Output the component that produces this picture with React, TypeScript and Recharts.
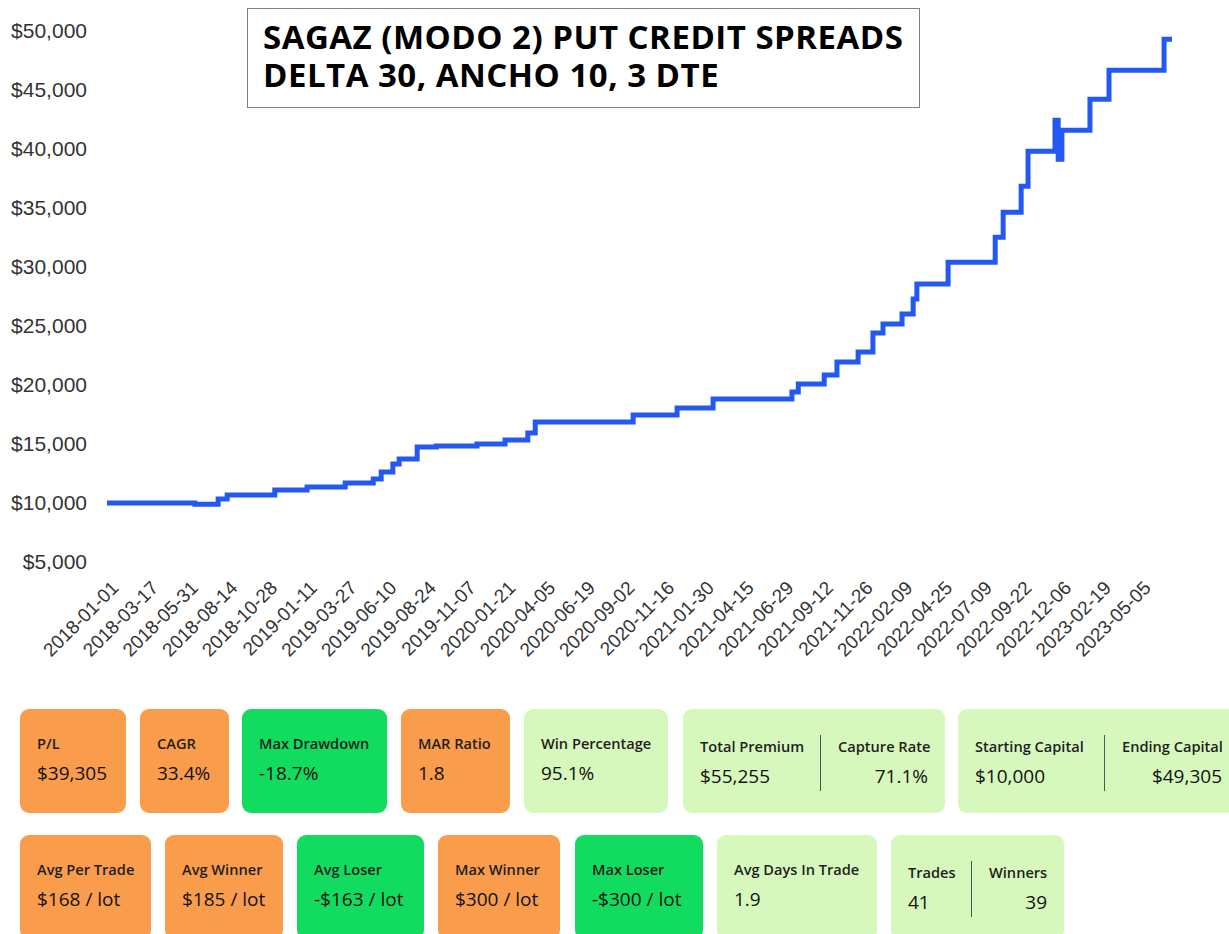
import React from 'react';
import { LineChart, Line, XAxis, YAxis } from 'recharts';

// ---------- DATA ----------
const tradeDates = [
  '2018-01-01', '2018-06-16', '2018-07-30', '2018-08-16', '2018-11-14',
  '2019-01-14', '2019-03-27', '2019-05-19', '2019-06-03', '2019-06-25',
  '2019-07-07', '2019-08-10', '2019-09-15', '2019-12-01', '2020-01-23',
  '2020-03-06', '2020-03-20', '2020-09-21', '2020-12-13', '2021-02-19',
  '2021-07-18', '2021-07-30', '2021-09-17', '2021-10-11', '2021-11-20',
  '2021-12-18', '2022-01-06', '2022-02-11', '2022-03-04', '2022-03-11',
  '2022-05-09', '2022-08-06', '2022-08-21', '2022-09-24', '2022-10-07',
  '2022-11-27', '2022-12-03', '2022-12-10', '2023-02-01', '2023-03-09',
  '2023-06-21', '2023-07-06',
];

const equity = [
  10000, 9900, 10340, 10680, 11100,
  11355, 11700, 12030, 12630, 13300,
  13730, 14740, 14830, 15000, 15340,
  15930, 16860, 17450, 18050, 18810,
  19400, 20080, 20840, 21940, 22790,
  24400, 25160, 26010, 27280, 28550,
  30410, 32530, 34650, 36850, 39810,
  42440, 39140, 41590, 44220, 46680,
  49305, 49305,
];

const xTickLabels = [
  '2018-01-01', '2018-03-17', '2018-05-31', '2018-08-14', '2018-10-28',
  '2019-01-11', '2019-03-27', '2019-06-10', '2019-08-24', '2019-11-07',
  '2020-01-21', '2020-04-05', '2020-06-19', '2020-09-02', '2020-11-16',
  '2021-01-30', '2021-04-15', '2021-06-29', '2021-09-12', '2021-11-26',
  '2022-02-09', '2022-04-25', '2022-07-09', '2022-09-22', '2022-12-06',
  '2023-02-19', '2023-05-05',
];

const yTicks = [5000, 10000, 15000, 20000, 25000, 30000, 35000, 40000, 45000, 50000];

const titleLines = ['SAGAZ (MODO 2) PUT CREDIT SPREADS', 'DELTA 30, ANCHO 10, 3 DTE'];

const row1Cards = [
  { kind: 'orange', items: [{ label: 'P/L', value: '$39,305' }] },
  { kind: 'orange', items: [{ label: 'CAGR', value: '33.4%' }] },
  { kind: 'green', items: [{ label: 'Max Drawdown', value: '-18.7%' }] },
  { kind: 'orange', items: [{ label: 'MAR Ratio', value: '1.8' }] },
  { kind: 'light', items: [{ label: 'Win Percentage', value: '95.1%' }] },
  { kind: 'light', items: [{ label: 'Total Premium', value: '$55,255' }, { label: 'Capture Rate', value: '71.1%' }] },
  { kind: 'light', items: [{ label: 'Starting Capital', value: '$10,000' }, { label: 'Ending Capital', value: '$49,305' }] },
];

const row2Cards = [
  { kind: 'orange', items: [{ label: 'Avg Per Trade', value: '$168 / lot' }] },
  { kind: 'orange', items: [{ label: 'Avg Winner', value: '$185 / lot' }] },
  { kind: 'green', items: [{ label: 'Avg Loser', value: '-$163 / lot' }] },
  { kind: 'orange', items: [{ label: 'Max Winner', value: '$300 / lot' }] },
  { kind: 'green', items: [{ label: 'Max Loser', value: '-$300 / lot' }] },
  { kind: 'light', items: [{ label: 'Avg Days In Trade', value: '1.9' }] },
  { kind: 'light', items: [{ label: 'Trades', value: '41' }, { label: 'Winners', value: '39' }] },
];

// ---------- LAYOUT ----------
const row1Layout = { top: 709, height: 104, lefts: [20, 140, 242, 401, 524, 683, 958], widths: [106, 89, 145, 109, 144, 262, 281], dividers: [0, 0, 0, 0, 0, 137, 146] };
const row2Layout = { top: 835, height: 104, lefts: [20, 165, 297, 438, 575, 717, 891], widths: [131, 118, 127, 122, 128, 160, 173], dividers: [0, 0, 0, 0, 0, 0, 80] };

const cardColors: Record<string, string> = { orange: '#F99D4C', green: '#12DC60', light: '#D7F8BD' };

const dayIndex = (s: string) => {
  const [y, m, d] = s.split('-').map(Number);
  return Math.round((Date.UTC(y, m - 1, d) - Date.UTC(2018, 0, 1)) / 86400000);
};

const chartData = tradeDates.map((d, i) => ({ day: dayIndex(d), equity: equity[i] }));
const xTicks = xTickLabels.map(dayIndex);
const tickLabelByDay: Record<number, string> = {};
xTickLabels.forEach((l) => { tickLabelByDay[dayIndex(l)] = l; });

const axisFont = '"Liberation Sans", Arial, sans-serif';
const cardFont = '"Open Sans", "Noto Sans", sans-serif';

const DateTick = (props: any) => {
  const { x, y, payload } = props;
  return (
    <g transform={`translate(${x},${y})`}>
      <text x={0} y={0} dy={14} dx={4} textAnchor="end" transform="rotate(-45)" fill="#333" fontSize={19} fontFamily={axisFont}>
        {tickLabelByDay[payload.value] ?? ''}
      </text>
    </g>
  );
};

const Card = ({ left, top, width, height, kind, items, divider }: any) => {
  const split = items.length === 2;
  const labelC = split ? 37 : 34;
  const valueC = split ? 67 : 64;
  const labelStyle: React.CSSProperties = { position: 'absolute', top: labelC - 10, lineHeight: '20px', fontSize: 14.6, fontWeight: 600, color: '#1e1e1e', whiteSpace: 'nowrap' };
  const valueStyle: React.CSSProperties = { position: 'absolute', top: valueC - 13, lineHeight: '26px', fontSize: 19, fontWeight: 400, color: '#111', whiteSpace: 'nowrap' };
  return (
    <div style={{ position: 'absolute', left, top, width, height, background: cardColors[kind], borderRadius: 9, fontFamily: cardFont }}>
      <div style={{ ...labelStyle, left: 17 }}>{items[0].label}</div>
      <div style={{ ...valueStyle, left: 17 }}>{items[0].value}</div>
      {split && (
        <>
          <div style={{ position: 'absolute', left: divider, top: labelC - 11, width: 1, height: 56, background: '#555' }} />
          <div style={{ ...labelStyle, left: divider + 18 }}>{items[1].label}</div>
          <div style={{ ...valueStyle, right: 17, textAlign: 'right' }}>{items[1].value}</div>
        </>
      )}
    </div>
  );
};

export default function App() {
  return (
    <div style={{ position: 'fixed', left: 0, top: 0, width: 1229, height: 934, overflow: 'hidden', background: '#fff' }}>
      <div style={{ position: 'absolute', left: 0, top: 0 }}>
        <LineChart width={1229} height={690} data={chartData} margin={{ top: 31, right: 57, bottom: 28, left: 0 }}>
          <XAxis
            dataKey="day"
            type="number"
            domain={[0, chartData[chartData.length - 1].day]}
            ticks={xTicks}
            interval={0}
            tick={<DateTick />}
            axisLine={false}
            tickLine={false}
            tickSize={0}
            tickMargin={20}
            height={100}
            allowDataOverflow
          />
          <YAxis
            type="number"
            domain={[5000, 50000]}
            ticks={yTicks}
            interval={0}
            tickFormatter={(v: number) => `$${v.toLocaleString('en-US')}`}
            axisLine={false}
            tickLine={false}
            tickSize={0}
            tickMargin={20}
            width={107}
            tick={{ fill: '#333', fontSize: 21, fontFamily: axisFont }}
          />
          <Line
            type="stepAfter"
            dataKey="equity"
            stroke="#2358F2"
            strokeWidth={5}
            dot={false}
            activeDot={false}
            isAnimationActive={false}
            strokeLinecap="round"
          />
        </LineChart>
      </div>

      <div style={{ position: 'absolute', left: 247, top: 8, width: 671, height: 98, border: '1px solid #808080', background: '#fff', fontFamily: cardFont, fontWeight: 700, fontSize: 33, letterSpacing: 0.5, color: '#000' }}>
        <div style={{ position: 'absolute', left: 15, top: 9, lineHeight: '38px', whiteSpace: 'nowrap' }}>
          {titleLines[0]}
          <br />
          {titleLines[1]}
        </div>
      </div>

      {row1Cards.map((c, i) => (
        <Card key={'r1' + i} left={row1Layout.lefts[i]} top={row1Layout.top} width={row1Layout.widths[i]} height={row1Layout.height} kind={c.kind} items={c.items} divider={row1Layout.dividers[i]} />
      ))}
      {row2Cards.map((c, i) => (
        <Card key={'r2' + i} left={row2Layout.lefts[i]} top={row2Layout.top} width={row2Layout.widths[i]} height={row2Layout.height} kind={c.kind} items={c.items} divider={row2Layout.dividers[i]} />
      ))}
    </div>
  );
}
